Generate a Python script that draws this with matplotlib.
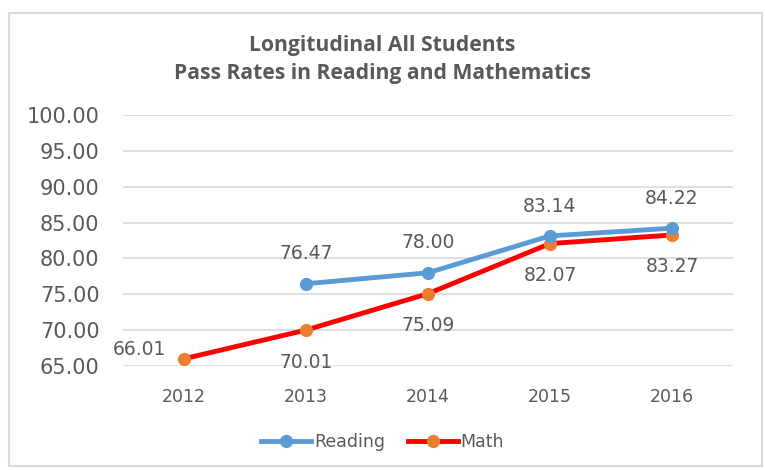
import matplotlib
matplotlib.use("Agg")
import matplotlib.pyplot as plt
from matplotlib.patches import Rectangle

years = ["2012", "2013", "2014", "2015", "2016"]
reading = [None, 76.47, 78.00, 83.14, 84.22]
math = [66.01, 70.01, 75.09, 82.07, 83.27]
y_ticks = [65, 70, 75, 80, 85, 90, 95, 100]

plt.rcParams["font.family"] = ["DejaVu Sans"]
TXT = "#595959"

fig = plt.figure(figsize=(7.65, 4.7), dpi=100)
ax = fig.add_axes([123 / 765, 1 - 366 / 470, 610 / 765, 251 / 470])

x = list(range(len(years)))
rx = [i for i, v in zip(x, reading) if v is not None]
ry = [v for v in reading if v is not None]

ax.plot(x, math, color="#FF0000", lw=3.5, marker="o", ms=8.5,
        mfc="#ED7D31", mec="#ED7D31", label="Math", zorder=3)
ax.plot(rx, ry, color="#5B9BD5", lw=3.5, marker="o", ms=8.5,
        mfc="#5B9BD5", mec="#5B9BD5", label="Reading", zorder=4)

# data labels: reading above, math below (2012 to the left)
for i, v in zip(rx, ry):
    ax.annotate(f"{v:.2f}", (i, v), xytext=(0, 21.5), textcoords="offset points",
                ha="center", va="center", fontsize=13.5, color=TXT)
for i, v in zip(x, math):
    if i == 0:
        ax.annotate(f"{v:.2f}", (i, v), xytext=(-13, 7), textcoords="offset points",
                    ha="right", va="center", fontsize=13.5, color=TXT)
    else:
        ax.annotate(f"{v:.2f}", (i, v), xytext=(0, -23), textcoords="offset points",
                    ha="center", va="center", fontsize=13.5, color=TXT)

ax.set_xlim(-0.5, len(years) - 0.5)
ax.set_ylim(65, 100)
ax.set_yticks(y_ticks)
ax.set_yticklabels([f"{t:.2f}" for t in y_ticks], fontsize=15, color=TXT)
ax.set_xticks(x)
ax.set_xticklabels(years, fontsize=12.5, color=TXT)
ax.tick_params(length=0, axis="y", pad=17)
ax.tick_params(length=0, axis="x", pad=16)
ax.grid(axis="y", color="#D9D9D9", lw=1.2)
for s in ax.spines.values():
    s.set_visible(False)
ax.set_axisbelow(True)

fig.text(0.5, 1 - 45 / 470, "Longitudinal All Students", ha="center", va="center",
         fontsize=15.2, fontweight="bold", color=TXT, family="Open Sans")
fig.text(0.5, 1 - 73 / 470, "Pass Rates in Reading and Mathematics", ha="center",
         va="center", fontsize=15.2, fontweight="bold", color=TXT, family="Open Sans")

h, l = ax.get_legend_handles_labels()
fig.legend(h[::-1], l[::-1], loc="center", bbox_to_anchor=(0.5, 1 - 442 / 470),
           ncol=2, frameon=False, fontsize=12.5, labelcolor=TXT,
           handlelength=2.9, handletextpad=0.15, columnspacing=1.3)

fig.patches.append(Rectangle((9 / 765, 4 / 470), 753 / 765, 453 / 470,
                             transform=fig.transFigure, fill=False,
                             edgecolor="#D9D9D9", lw=1.5))

fig.savefig("out.png", dpi=100)
